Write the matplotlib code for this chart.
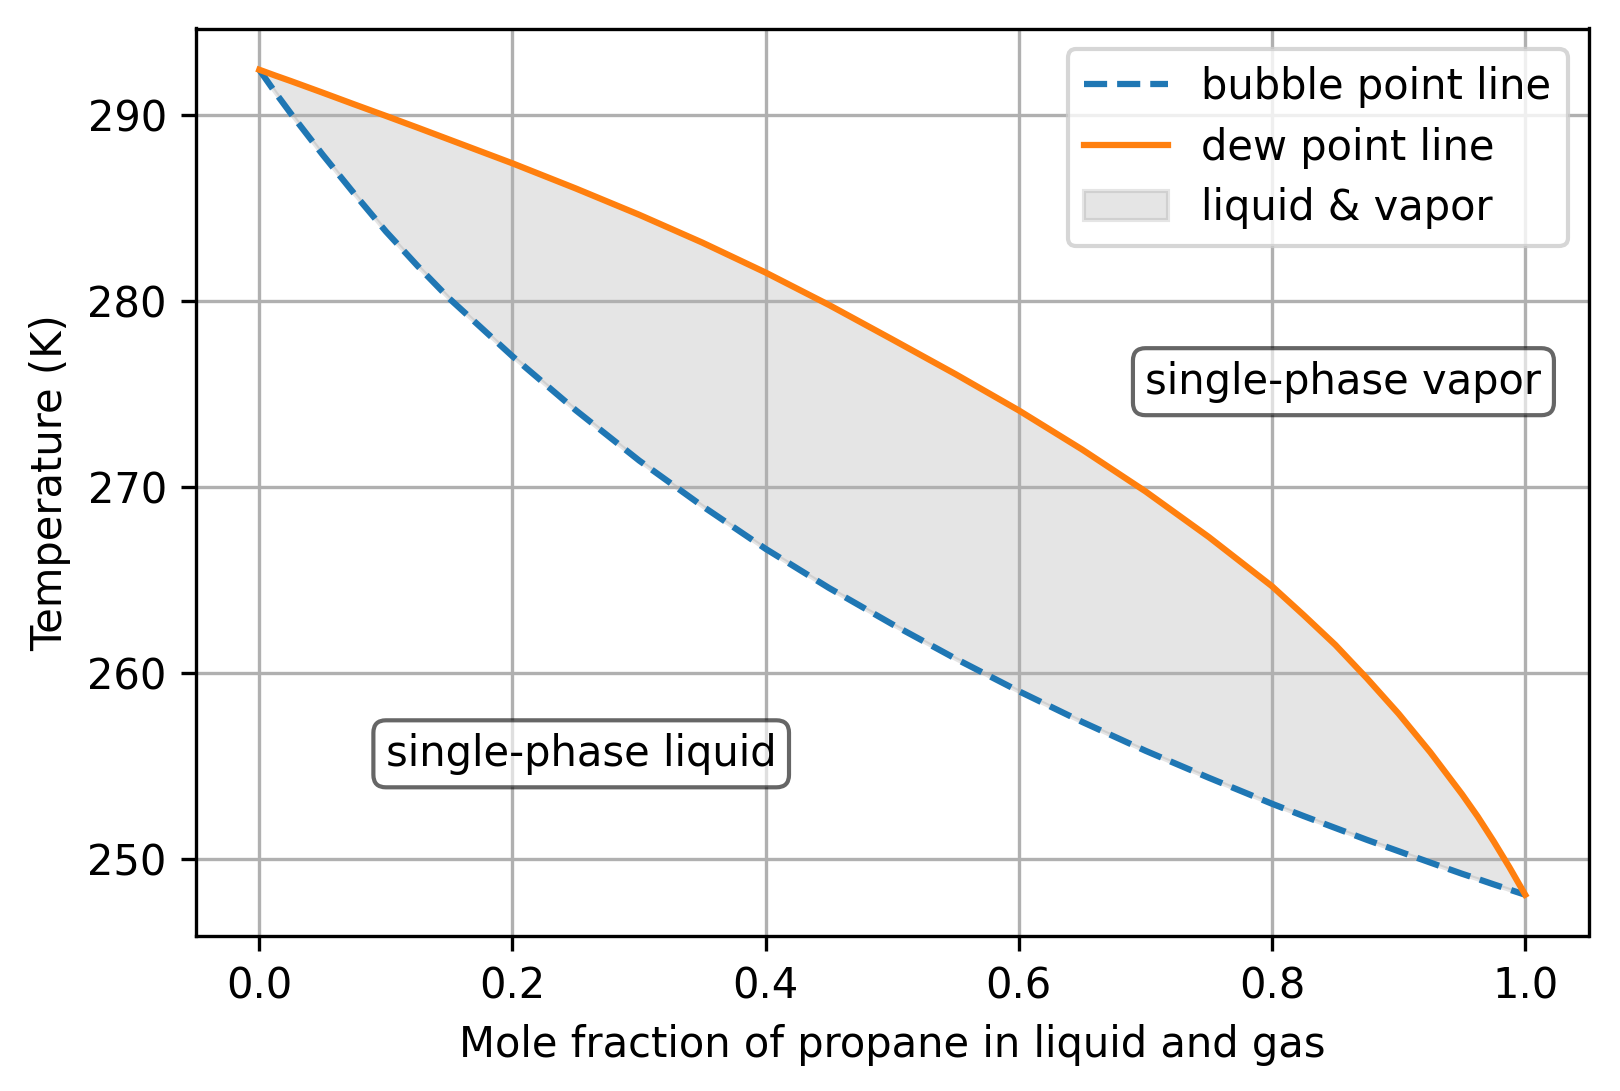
import numpy as np
import matplotlib
matplotlib.use("Agg")
import matplotlib.pyplot as plt

# Mole fraction of propane (shared grid for both curves)
mole_frac = [0.0, 0.0125, 0.025, 0.05, 0.075, 0.1, 0.125, 0.15, 0.2, 0.25,
             0.3, 0.35, 0.4, 0.45, 0.5, 0.55, 0.6, 0.65, 0.7, 0.75, 0.8,
             0.825, 0.85, 0.875, 0.9, 0.925, 0.95, 0.9625, 0.975, 0.9875,
             1.0]

# Bubble point temperatures (K)
bubble_T = [292.41, 291.20, 290.05, 287.85, 285.75, 283.72, 281.87, 280.12,
            277.01, 274.11, 271.41, 268.96, 266.66, 264.56, 262.61, 260.76,
            259.01, 257.36, 255.81, 254.36, 252.96, 252.30, 251.66, 251.02,
            250.41, 249.80, 249.20, 248.92, 248.63, 248.35, 248.07]

# Dew point temperatures (K)
dew_T = [292.41, 292.10, 291.80, 291.18, 290.55, 289.93, 289.30, 288.66,
         287.38, 286.03, 284.62, 283.12, 281.51, 279.77, 277.92, 276.05,
         274.10, 272.00, 269.75, 267.30, 264.65, 263.10, 261.50, 259.70,
         257.80, 255.73, 253.48, 252.27, 250.95, 249.55, 248.07]

fig = plt.figure(figsize=(5.4, 1091 / 300), dpi=300)
ax = fig.add_axes([196 / 1620, 1 - 936 / 1091, 1392.5 / 1620, 907.5 / 1091])

ax.plot(mole_frac, bubble_T, "--", label="bubble point line")
ax.plot(mole_frac, dew_T, "-", label="dew point line")
ax.fill_between(mole_frac, bubble_T, dew_T, color="gray", alpha=0.2,
                label="liquid & vapor")

box = dict(boxstyle="round", facecolor="white", alpha=0.6)
ax.text(0.1, 255, "single-phase liquid", bbox=box)
ax.text(0.7, 275, "single-phase vapor", bbox=box)

ax.set_xlabel("Mole fraction of propane in liquid and gas")
ax.set_ylabel("Temperature (K)")
ax.grid(True)
ax.legend(loc="upper right", labelspacing=0.45)

fig.savefig("out.png", dpi=300)
